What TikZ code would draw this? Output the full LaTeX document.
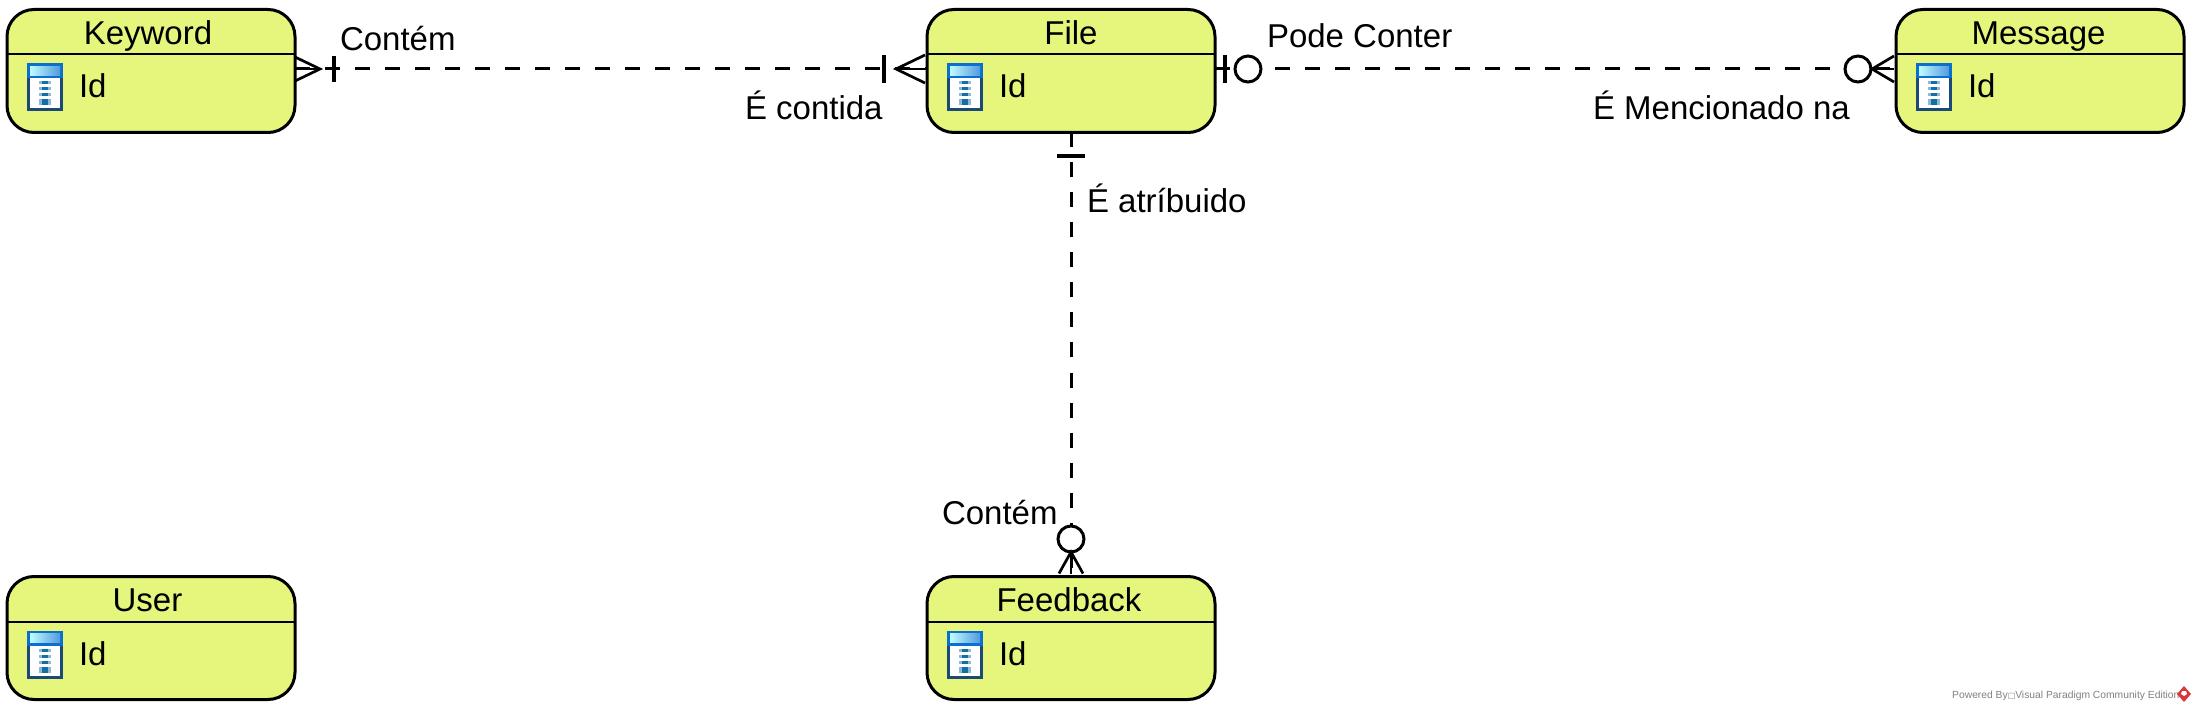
\documentclass[tikz,border=0pt]{standalone}
\usepackage{fontspec}
\setmainfont{Liberation Sans}
\newfontfamily\boxfont{DejaVu Sans}
\definecolor{entfill}{HTML}{E6F57C}
\definecolor{iconblue}{HTML}{0A6FCF}
\definecolor{icondark}{HTML}{1C4A78}
\definecolor{iconrow}{HTML}{126FA8}
\definecolor{iconpale}{HTML}{8DB9D6}
\definecolor{vpgrey}{HTML}{808080}
\definecolor{vpred}{HTML}{D8383C}
\tikzset{
  entity/.style={draw=black,fill=entfill,line width=3pt,rounded corners=27pt,minimum width=288pt,minimum height=123pt,inner sep=0pt,outer sep=0pt},
  txt/.style={font=\fontsize{33}{37}\selectfont,anchor=base west,inner sep=0pt,outer sep=0pt,text=black},
  entitle/.style={txt,anchor=base},
  headsep/.style={line width=2pt},
  rel/.style={line width=3pt,dash pattern=on 15pt off 15pt},
  endmark/.style={line width=2.7pt},
  endbar/.style={line width=3.4pt},
  ring/.style={line width=3pt,fill=white},
}
% \entity{name}{title}{centre x}{top y}{title shift}
\newcommand\entity[5]{%
  \node[entity] (#1) at (#3,#4+61.5) {};
  \node[entitle] (#1-t) at (#3+#5,#4+35) {#2};
  \draw[headsep] (#1.north west) ++(0,45) -- ++(288,0);
  \begin{scope}[shift={(#3-144,#4)}]
    \fill[icondark] (20,54) rectangle (56,102);
    \fill[iconblue] (20,54) rectangle (56,69);
    \shade[left color=blue!5!cyan!25,right color=iconblue!70] (23,57) rectangle (53,66);
    \fill[white] (23,69) rectangle (53,99);
    \foreach \a/\b in {72/75,78/81,84/87,90/96}{
      \fill[iconpale] (32,\a) rectangle (44,\b);
      \fill[iconrow] (35,\a) rectangle (41,\b);
    }
  \end{scope}
  \node[txt] (#1-id) at (#3-144+72,#4+88.5) {Id};
}
\begin{document}
\begin{tikzpicture}[x=1pt,y=-1pt]
\useasboundingbox (0,0) rectangle (2196,711);
\entity{keyword}{Keyword}{151}{9.5}{-3}
\entity{file}{File}{1071}{9.5}{0}
\entity{message}{Message}{2040}{9.5}{-1.5}
\entity{user}{User}{151}{576.5}{-3.5}
\entity{feedback}{Feedback}{1071}{576.5}{-2}

% connector Keyword - File
\draw[rel] ([yshift=2pt]keyword.east) -- ([yshift=2pt]file.west);
\draw[endmark] ([yshift=14pt]keyword.east) -- ++(25,12) -- ++(-25,12);
\draw[endmark] ([yshift=2pt]keyword.east) -- ++(25,0);
\draw[endbar] ([yshift=2pt,xshift=39pt]keyword.east) ++(0,-13) -- ++(0,26);
\draw[endmark] ([yshift=16pt,xshift=-2pt]file.west) -- ++(-29,14) -- ++(29,14);
\draw[endmark] ([yshift=2pt,xshift=-2pt]file.west) -- ++(-29,0);
\draw[endbar] ([yshift=2pt,xshift=-43pt]file.west) ++(0,-14) -- ++(0,28);

% connector File - Message
\draw[rel] ([yshift=2pt]file.east) -- ([yshift=2pt]message.west);
\draw[endmark] ([yshift=2pt]file.east) -- ++(15,0);
\draw[endbar] ([yshift=2pt,xshift=10pt]file.east) ++(0,-14) -- ++(0,28);
\draw[ring] ([yshift=2pt,xshift=33pt]file.east) circle (13);
\draw[ring] ([yshift=2pt,xshift=-38pt]message.west) circle (13);
\draw[endmark] ([yshift=15pt,xshift=-2pt]message.west) -- ++(-22,13) -- ++(22,13);
\draw[endmark] ([yshift=2pt,xshift=-2pt]message.west) -- ++(-22,0);

% connector File - Feedback
\draw[rel] (file.south) -- (feedback.north);
\draw[endbar] ([yshift=-23.5pt]file.south) ++(-14,0) -- ++(28,0);
\draw[ring] ([yshift=37.5pt]feedback.north) circle (13);
\draw[endmark] ([yshift=3pt,xshift=-12pt]feedback.north) -- ++(12,-21.5) -- ++(12,21.5);
\draw[endmark] ([yshift=3pt]feedback.north) -- ++(0,-21.5);

% labels
\node[txt] (l1) at (340,51) {Contém};
\node[txt] (l2) at (745,120) {É contida};
\node[txt] (l3) at (1267,48) {Pode Conter};
\node[txt] (l4) at (1593,120) {É Mencionado na};
\node[txt] (l5) at (1087,213) {É atríbuido};
\node[txt] (l6) at (942,524.5) {Contém};

% footer
\node[anchor=base west,inner sep=0pt,text=vpgrey,font=\fontsize{10.3}{12}\selectfont] (wm) at (1952,698) {Powered By{\boxfont\fontsize{8}{10}\selectfont □}Visual Paradigm Community Edition};
\fill[vpred] (2184,686) -- (2191,694) -- (2184,702) -- (2177,694) -- cycle;
\fill[white] (2182,691) -- (2186,691) -- (2187,694) -- (2184,696) -- (2181,694) -- cycle;
\end{tikzpicture}
\end{document}
